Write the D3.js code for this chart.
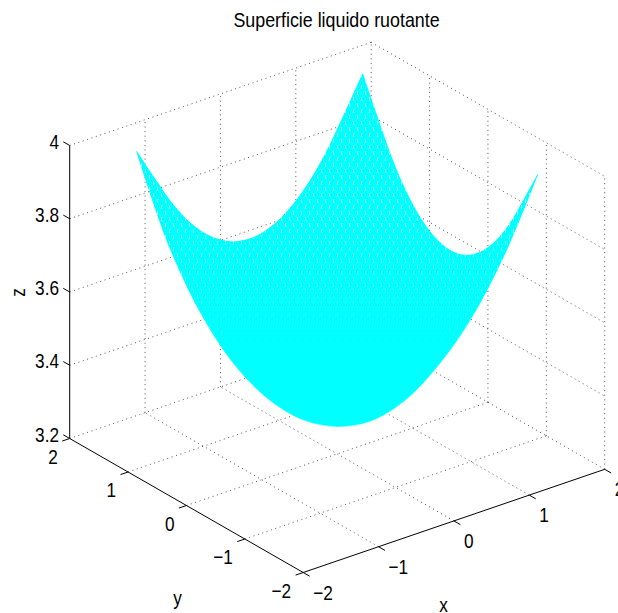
<!DOCTYPE html>
<html>
<head>
<meta charset="utf-8">
<script src="https://cdn.jsdelivr.net/npm/d3@7"></script>
<style>
  html, body { margin: 0; padding: 0; background: #fff; overflow: hidden; }
  text { font-family: "Liberation Sans", Arial, sans-serif; fill: #000; }
</style>
</head>
<body>
<svg id="chart"></svg>
<script>
// Set up the chart dimensions
const width = 618;
const height = 613;

// Axis ticks
const xTicks = [-2, -1, 0, 1, 2];
const yTicks = [2, 1, 0, -1, -2];
const zTicks = [3.2, 3.4, 3.6, 3.8, 4];
const zTickLabels = ["3.2", "3.4", "3.6", "3.8", "4"];

// Surface border: position along each edge and the height there
const frontEdgeT = [-1.5, -1.25, -1, -0.75, -0.5, -0.25, 0, 0.25, 0.5, 0.75, 1, 1.25, 1.5];
const frontEdgeZ = [3.995, 3.735, 3.55, 3.42, 3.335, 3.287, 3.275, 3.295, 3.355, 3.455, 3.59, 3.77, 3.995];
const rightEdgeT = [-1.5, -1.25, -1, -0.75, -0.5, -0.25, 0, 0.25, 0.5, 0.75, 1, 1.25, 1.5];
const rightEdgeZ = [3.995, 3.9, 3.81, 3.74, 3.69, 3.66, 3.65, 3.66, 3.69, 3.74, 3.81, 3.9, 3.995];
const backEdgeT = [1.5, 1.25, 1, 0.75, 0.5, 0.25, 0, -0.25, -0.5, -0.75, -1, -1.25, -1.5];
const backEdgeZ = [3.995, 3.9, 3.81, 3.74, 3.69, 3.66, 3.65, 3.66, 3.69, 3.74, 3.81, 3.9, 3.995];
const edgeLimit = 1.5;

// Oblique projection: each data axis moves the point along its own screen direction
const xToH = d3.scaleLinear().domain([-2, 2]).range([0, 301.5]);
const xToV = d3.scaleLinear().domain([-2, 2]).range([0, -103.2]);
const yToH = d3.scaleLinear().domain([2, -2]).range([0, 233.5]);
const yToV = d3.scaleLinear().domain([2, -2]).range([0, 134]);
const zToV = d3.scaleLinear().domain([3.2, 4]).range([0, -293]);
const originX = 69.7;
const originY = 438.5;

const project = (x, y, z) => [
  originX + xToH(x) + yToH(y),
  originY + xToV(x) + yToV(y) + zToV(z),
];

const svg = d3.select("#chart").attr("width", width).attr("height", height);

// Pale moire flecks that the dense mesh leaves in the upper part of the surface
const defs = svg.append("defs");
const fleck = defs
  .append("pattern")
  .attr("id", "fleck")
  .attr("patternUnits", "userSpaceOnUse")
  .attr("width", 8)
  .attr("height", 12);
fleck.append("rect").attr("width", 8).attr("height", 12).attr("fill", "#00ffff");
fleck.append("rect").attr("x", 1).attr("y", 1).attr("width", 1).attr("height", 4).attr("fill", "#a8ffff");
fleck.append("rect").attr("x", 5).attr("y", 7).attr("width", 1).attr("height", 4).attr("fill", "#a8ffff");
const fade = defs
  .append("linearGradient")
  .attr("id", "fade")
  .attr("gradientUnits", "userSpaceOnUse")
  .attr("x1", 0)
  .attr("y1", 220)
  .attr("x2", 0)
  .attr("y2", 355);
fade.append("stop").attr("offset", 0).attr("stop-color", "#fff");
fade.append("stop").attr("offset", 1).attr("stop-color", "#000");
defs
  .append("mask")
  .attr("id", "fadeMask")
  .attr("maskUnits", "userSpaceOnUse")
  .attr("width", width)
  .attr("height", height)
  .append("rect")
  .attr("width", width)
  .attr("height", height)
  .attr("fill", "url(#fade)");

// Dotted grid on the floor and the two back walls
const gridLines = [];
const zMin = zTicks[0];
const zMax = zTicks[zTicks.length - 1];
xTicks.forEach((x) => {
  if (x > -2) gridLines.push([[x, 2, zMin], [x, 2, zMax]]);
  if (x > -2) gridLines.push([[x, -2, zMin], [x, 2, zMin]]);
});
yTicks.forEach((y) => {
  if (y < 2) gridLines.push([[2, y, zMin], [2, y, zMax]]);
  if (y > -2) gridLines.push([[-2, y, zMin], [2, y, zMin]]);
});
zTicks.forEach((z) => {
  if (z > zMin) gridLines.push([[-2, 2, z], [2, 2, z]]);
  if (z > zMin) gridLines.push([[2, 2, z], [2, -2, z]]);
});

svg
  .append("g")
  .selectAll("line")
  .data(gridLines)
  .enter()
  .append("line")
  .attr("x1", (d) => project(...d[0])[0])
  .attr("y1", (d) => project(...d[0])[1])
  .attr("x2", (d) => project(...d[1])[0])
  .attr("y2", (d) => project(...d[1])[1])
  .attr("stroke", "#000")
  .attr("stroke-opacity", 0.75)
  .attr("stroke-width", 0.9)
  .attr("stroke-dasharray", "1 3.6");

// Surface, a single cyan shape closed from its three curved edges
const edgeLine = d3.line().curve(d3.curveCatmullRom);
const frontPts = frontEdgeT.map((t, i) => project(t, -t, frontEdgeZ[i]));
const rightPts = rightEdgeT.map((t, i) => project(edgeLimit, t, rightEdgeZ[i]));
const backPts = backEdgeT.map((t, i) => project(t, edgeLimit, backEdgeZ[i]));
const joinEdge = (pts) => edgeLine(pts).replace(/^M/, "L");
const surfacePath = edgeLine(frontPts) + joinEdge(rightPts) + joinEdge(backPts) + "Z";

svg
  .append("path")
  .attr("d", surfacePath)
  .attr("fill", "#00ffff")
  .attr("stroke", "#00ffff")
  .attr("stroke-width", 0.5);

svg
  .append("path")
  .attr("d", surfacePath)
  .attr("fill", "url(#fleck)")
  .attr("mask", "url(#fadeMask)");

// Solid axes
const axisLines = [
  [[-2, 2, zMin], [-2, 2, zMax]],
  [[-2, 2, zMin], [-2, -2, zMin]],
  [[-2, -2, zMin], [2, -2, zMin]],
];
const tickLines = [];
const tickX = 0.1;
const tickY = 0.11;
xTicks.forEach((x) => tickLines.push([[x, -2, zMin], [x, -2 - tickY, zMin]]));
yTicks.forEach((y) => tickLines.push([[-2, y, zMin], [-2 - tickX, y, zMin]]));
zTicks.forEach((z) => tickLines.push([[-2, 2, z], [-2, 2 + tickY, z]]));

svg
  .append("g")
  .selectAll("line")
  .data(axisLines.concat(tickLines))
  .enter()
  .append("line")
  .attr("x1", (d) => project(...d[0])[0])
  .attr("y1", (d) => project(...d[0])[1])
  .attr("x2", (d) => project(...d[1])[0])
  .attr("y2", (d) => project(...d[1])[1])
  .attr("stroke", "#000")
  .attr("stroke-width", 1);

// All the text is a condensed Helvetica, so squeeze it horizontally
const addText = (str, x, y, anchor, size = 21, squeeze = 0.82) =>
  svg
    .append("text")
    .attr("transform", `translate(${x},${y}) scale(${squeeze},1)`)
    .attr("text-anchor", anchor)
    .style("font-size", size + "px")
    .text(str);

const fmt = (v) => (v < 0 ? "\u2212" + Math.abs(v) : String(v));

xTicks.forEach((x) => {
  const p = project(x, -2, zMin);
  addText(fmt(x), p[0] + 10, p[1] + 27, "start");
});
yTicks.forEach((y) => {
  const p = project(-2, y, zMin);
  addText(fmt(y), p[0] - 12, p[1] + 25, "end");
});
zTicks.forEach((z, i) => {
  const p = project(-2, 2, z);
  addText(zTickLabels[i], 59, p[1] + 3, "end");
});

addText("Superficie liquido ruotante", 336.5, 27, "middle", 21, 0.85);
addText("x", 443.5, 612, "middle");
addText("y", 177.5, 605, "middle");
svg
  .append("text")
  .attr("transform", "translate(25,292.5) rotate(-90) scale(0.82,1)")
  .attr("text-anchor", "middle")
  .style("font-size", "21px")
  .text("z");
</script>
</body>
</html>
